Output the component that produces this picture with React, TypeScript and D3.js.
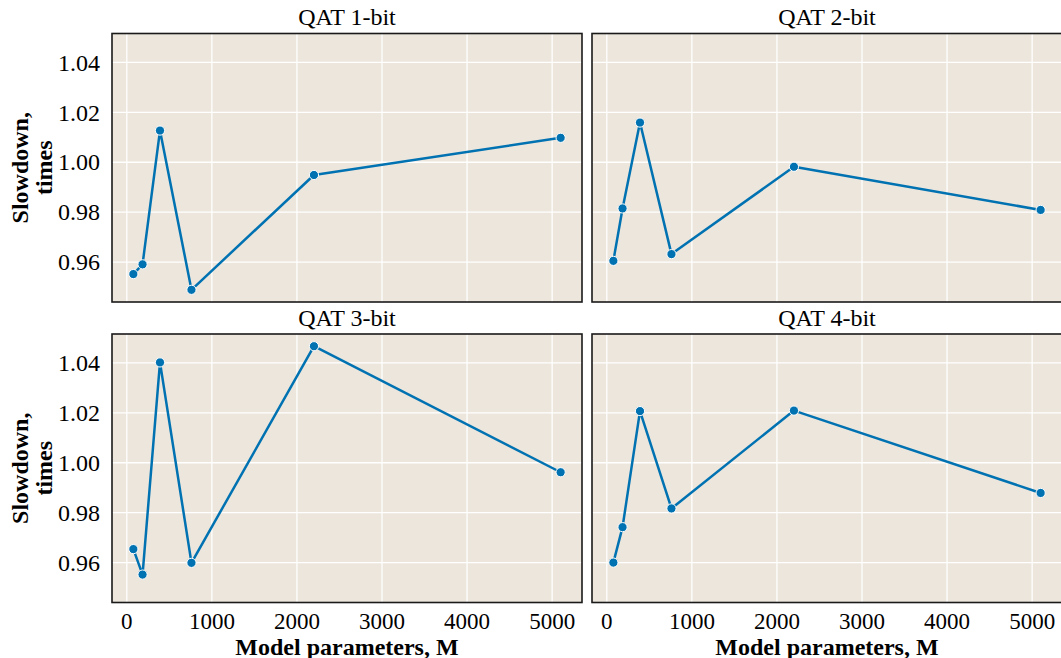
import React from "react";
import * as d3 from "d3";

const params = [77, 185, 390, 760, 2200, 5100];
const panelTitles = ["QAT 1-bit", "QAT 2-bit", "QAT 3-bit", "QAT 4-bit"];
const qat1 = [0.9552, 0.9591, 1.0127, 0.9489, 0.9949, 1.0098];
const qat2 = [0.9605, 0.9815, 1.0159, 0.9632, 0.9982, 0.9809];
const qat3 = [0.9654, 0.9552, 1.0402, 0.9599, 1.0467, 0.9962];
const qat4 = [0.96, 0.9742, 1.0207, 0.9817, 1.0209, 0.9879];
const xTicks = [0, 1000, 2000, 3000, 4000, 5000];
const yTicks = [0.96, 0.98, 1.0, 1.02, 1.04];

const series = [qat1, qat2, qat3, qat4];

const W = 1061;
const H = 658;
const panelW = 470;
const panelH = 268.5;
const lefts = [112, 592];
const tops = [33.5, 334];
const BG = "#ECE6DD";
const LINE = "#0072B2";
const FONT = "'Liberation Serif', 'Times New Roman', serif";
const FS = 24;

export default function App() {
  const allY = series.flat();
  const yMin = d3.min(allY)!;
  const yMax = d3.max(allY)!;
  const yPad = (yMax - yMin) * 0.05;
  const xMin = d3.min(params)!;
  const xMax = d3.max(params)!;
  const xPad = (xMax - xMin) * 0.05;

  return (
    <svg width={W} height={H} style={{ position: "absolute", left: 0, top: 0 }} fontFamily={FONT}>
      <rect width={W} height={H} fill="white" />
      {series.map((vals, i) => {
        const col = i % 2;
        const row = Math.floor(i / 2);
        const x0 = lefts[col];
        const y0 = tops[row];
        const x = d3.scaleLinear().domain([xMin - xPad, xMax + xPad]).range([x0, x0 + panelW]);
        const y = d3.scaleLinear().domain([yMin - yPad, yMax + yPad]).range([y0 + panelH, y0]);
        const line = d3
          .line<number>()
          .x((_, j) => x(params[j]))
          .y((d) => y(d));
        return (
          <g key={i}>
            <rect x={x0} y={y0} width={panelW} height={panelH} fill={BG} />
            {xTicks.map((t) => (
              <line key={"gx" + t} x1={x(t)} x2={x(t)} y1={y0} y2={y0 + panelH} stroke="white" strokeWidth={1.3} />
            ))}
            {yTicks.map((t) => (
              <line key={"gy" + t} x1={x0} x2={x0 + panelW} y1={y(t)} y2={y(t)} stroke="white" strokeWidth={1.3} />
            ))}
            <path d={line(vals) || ""} fill="none" stroke={LINE} strokeWidth={2.5} strokeLinejoin="round" />
            {vals.map((v, j) => (
              <circle key={j} cx={x(params[j])} cy={y(v)} r={4.6} fill={LINE} stroke="white" strokeWidth={1} />
            ))}
            <rect x={x0} y={y0} width={panelW} height={panelH} fill="none" stroke="#1a1a1a" strokeWidth={1.6} />
            <text x={x0 + panelW / 2} y={y0 - 8.5} textAnchor="middle" fontSize={FS} fill="#000">
              {panelTitles[i]}
            </text>
            {col === 0 &&
              yTicks.map((t) => (
                <text key={"ty" + t} x={x0 - 12} y={y(t)} dy="0.34em" textAnchor="end" fontSize={FS} fill="#000">
                  {d3.format(".2f")(t)}
                </text>
              ))}
            {row === 1 &&
              xTicks.map((t) => (
                <text key={"tx" + t} x={x(t)} y={y0 + panelH + 26} textAnchor="middle" fontSize={23} fill="#000">
                  {t}
                </text>
              ))}
            {row === 1 && (
              <text x={x0 + panelW / 2} y={y0 + panelH + 52} textAnchor="middle" fontSize={FS} fontWeight="bold" fill="#000">
                Model parameters, M
              </text>
            )}
            {col === 0 && (
              <text
                transform={`translate(${28},${y0 + panelH / 2}) rotate(-90)`}
                textAnchor="middle"
                fontSize={FS}
                fontWeight="bold"
                fill="#000"
              >
                <tspan x={0} dy="0">Slowdown,</tspan>
                <tspan x={0} dy="1.02em">times</tspan>
              </text>
            )}
          </g>
        );
      })}
    </svg>
  );
}
